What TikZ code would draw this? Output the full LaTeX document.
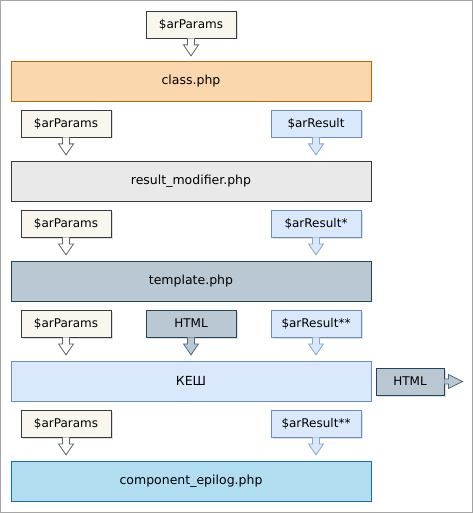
\documentclass[tikz,border=0pt]{standalone}
\usepackage{fontspec}
\setmainfont{DejaVu Sans}
\usetikzlibrary{shadows}
\definecolor{paramfill}{HTML}{F9F7ED}
\definecolor{paramdraw}{HTML}{36393D}
\definecolor{resfill}{HTML}{DAE8FC}
\definecolor{resdraw}{HTML}{6C8EBF}
\definecolor{classfill}{HTML}{FAD7AC}
\definecolor{classdraw}{HTML}{B46504}
\definecolor{modfill}{HTML}{E9E9E9}
\definecolor{tplfill}{HTML}{BAC8D3}
\definecolor{tpldraw}{HTML}{23445D}
\definecolor{epifill}{HTML}{B1DDF0}
\definecolor{epidraw}{HTML}{10739E}
\definecolor{framegray}{HTML}{A6A6A6}
\tikzset{
  small/.style={draw, line width=0.8pt, minimum width=90pt, minimum height=27pt, inner sep=0pt, font=\fontsize{12}{14}\selectfont,
    drop shadow={shadow xshift=1.5pt, shadow yshift=-1.5pt, opacity=0.25}},
  big/.style={draw, line width=0.8pt, minimum width=360pt, minimum height=40pt, inner sep=0pt, font=\fontsize{12.5}{15}\selectfont},
  parambox/.style={small, fill=paramfill, draw=paramdraw},
  resbox/.style={small, fill=resfill, draw=resdraw},
  htmlbox/.style={small, fill=tplfill, draw=tpldraw},
  paramtail/.style={draw=paramdraw!80, fill=white, line width=0.8pt},
  restail/.style={draw=resdraw!80, fill=resfill, line width=0.8pt},
  htmltail/.style={draw=tpldraw!80, fill=tplfill, line width=0.8pt}
}
\newcommand{\downtail}[2]{\draw[#2] ([xshift=-3.5pt]#1.south) -- ++(0,6.5) -- ++(-4,0) -- ++(7.5,11) -- ++(7.5,-11) -- ++(-4,0) -- ++(0,-6.5);}
\begin{document}
\begin{tikzpicture}[x=1pt, y=-1pt]
\useasboundingbox (0,0) rectangle (473,513);
\draw[framegray, line width=1pt] (0.5,0.5) rectangle (472.5,512.5);

\node[parambox] (p0) at (191,24.5) {\$arParams};
\node[big, fill=classfill, draw=classdraw] (class) at (191,81) {class.php};

\node[parambox] (p1) at (66,123.5) {\$arParams};
\node[resbox] (r1) at (316,123.5) {\$arResult};
\node[big, fill=modfill, draw=paramdraw] (mod) at (191,181) {result\_modifier.php};

\node[parambox] (p2) at (66,223.5) {\$arParams};
\node[resbox] (r2) at (316,223.5) {\$arResult*};
\node[big, fill=tplfill, draw=tpldraw] (tpl) at (191,281) {template.php};

\node[parambox] (p3) at (66,323.5) {\$arParams};
\node[htmlbox] (h3) at (191,323.5) {HTML};
\node[resbox] (r3) at (316,323.5) {\$arResult**};
\node[big, fill=resfill, draw=resdraw] (kesh) at (191,381) {КЕШ};
\node[htmlbox, minimum width=68pt] (hout) at (410,381.5) {HTML};

\node[parambox] (p4) at (66,423.5) {\$arParams};
\node[resbox] (r4) at (316,423.5) {\$arResult**};
\node[big, fill=epifill, draw=epidraw] (epi) at (191,481) {component\_epilog.php};

\downtail{p0}{paramtail}
\downtail{p1}{paramtail}
\downtail{r1}{restail}
\downtail{p2}{paramtail}
\downtail{r2}{restail}
\downtail{p3}{paramtail}
\downtail{h3}{htmltail}
\downtail{r3}{restail}
\downtail{p4}{paramtail}
\downtail{r4}{restail}
\draw[htmltail] ([yshift=2.5pt]hout.east) -- ++(4,0) -- ++(0,-4.5) -- ++(14,7) -- ++(-14,7) -- ++(0,-4.5) -- ++(-4,0);
\end{tikzpicture}
\end{document}
